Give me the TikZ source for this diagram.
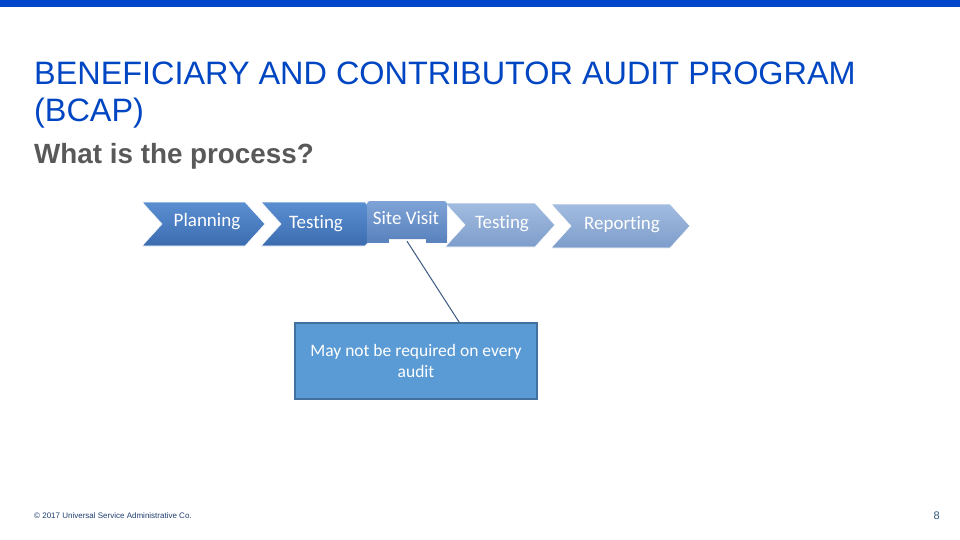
\documentclass[tikz,border=0pt]{standalone}
\usepackage{fontspec}
\setmainfont{Liberation Sans}
\newfontfamily\calib[Ligatures=CommonOff]{Carlito}
\usetikzlibrary{calc}
\definecolor{topbar}{HTML}{0047CC}
\definecolor{titleblue}{HTML}{0046C2}
\definecolor{subgray}{HTML}{595959}
\definecolor{callfill}{HTML}{5B9BD5}
\definecolor{calldraw}{HTML}{41719C}
\definecolor{linecol}{HTML}{3B5A80}
\definecolor{darkA}{HTML}{5A8FD2}
\definecolor{darkB}{HTML}{3C6CB0}
\definecolor{lightA}{HTML}{A3BCE0}
\definecolor{lightB}{HTML}{7D9DCB}
\definecolor{midA}{HTML}{7FA3D6}
\definecolor{midB}{HTML}{5B84BF}
\definecolor{footcol}{HTML}{1F3F6F}
\definecolor{pagecol}{HTML}{2F5A7A}
\tikzset{
  chevdark/.style={top color=darkA, bottom color=darkB, draw=white, line width=0.6pt},
  chevlight/.style={top color=lightA, bottom color=lightB, draw=white, line width=0.6pt},
  chevtext/.style={text=white, font=\calib\fontsize{19}{22}\selectfont, inner sep=0pt},
  callbox/.style={fill=callfill, draw=calldraw, line width=1.2pt, text=white, align=center,
    font=\calib\fontsize{17.5}{21}\selectfont, minimum width=242pt, minimum height=76pt, inner sep=0pt},
}
\begin{document}
\begin{tikzpicture}[x=1pt,y=-1pt]
\useasboundingbox (0,0) rectangle (960,540);
\fill[white] (0,0) rectangle (960,540);
\fill[topbar] (0,0) rectangle (960,7);
% title
\node[anchor=base west, inner sep=0pt, text=titleblue, font=\fontsize{32.4}{38}\selectfont] (t1) at (34,85) {BENEFICIARY AND CONTRIBUTOR AUDIT PROGRAM};
\node[anchor=base west, inner sep=0pt, text=titleblue, font=\fontsize{32.4}{38}\selectfont] (t2) at (34,122) {(BCAP)};
\node[anchor=base west, inner sep=0pt, text=subgray, font=\bfseries\fontsize{27.8}{32}\selectfont] (sub) at (34,164) {What is the process?};
% chevrons
\path[chevdark] (142,202) -- (245,202) -- (265,224) -- (245,246) -- (142,246) -- (162,224) -- cycle;
\path[chevdark] (261,202) -- (365,202) -- (385,224) -- (365,246) -- (261,246) -- (281,224) -- cycle;
\path[chevlight] (551,204) -- (670,204) -- (690,226) -- (670,248) -- (551,248) -- (571,226) -- cycle;
\path[chevlight] (445,203) -- (535,203) -- (555,225) -- (535,247) -- (445,247) -- (465,225) -- cycle;
% site visit tab
\fill[midB] (367,236) rectangle (389,243);
\fill[midB] (426,236) rectangle (447,243);
\path[top color=midA, bottom color=midB] (367,239) -- (367,204) to[out=90,in=180] (370,201) -- (444,201) to[out=0,in=90] (447,204) -- (447,239) -- cycle;
\node[inner sep=0pt, minimum width=80pt, minimum height=42pt] (sv) at (407,220) {};
% labels
\node[chevtext] (plan) at (207,222) {Planning};
\node[chevtext] (test1) at (316,224) {Testing};
\node[chevtext] (site) at (406,218) {Site Visit};
\node[chevtext] (test2) at (502,224) {Testing};
\node[chevtext] (rep) at (622,225) {Reporting};
% callout
\node[callbox] (box) at (416,361) {May not be required on every\\audit};
\coordinate (boxtop) at ($(box.north west)!0.678!(box.north east)$);
\draw[linecol, line width=1pt] (sv.south) -- (boxtop);
% footer
\node[anchor=base west, inner sep=0pt, text=footcol, font=\fontsize{8}{9}\selectfont] (foot) at (34,518) {\textcopyright{} 2017 Universal Service Administrative Co.};
\node[anchor=base east, inner sep=0pt, text=pagecol, font=\fontsize{11}{12}\selectfont] (page) at (940,519) {8};
\end{tikzpicture}
\end{document}
